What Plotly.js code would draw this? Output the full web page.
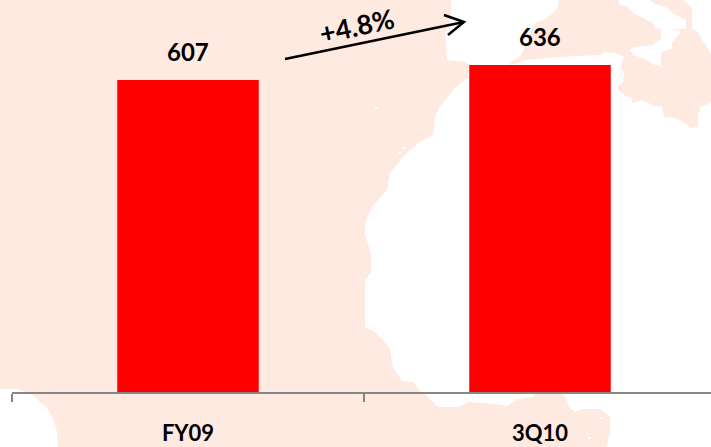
<!DOCTYPE html>
<html>
<head>
<meta charset="utf-8">
<script src="https://cdn.plot.ly/plotly-3.0.1.min.js"></script>
<style>html,body{margin:0;padding:0;background:#fff}</style>
</head>
<body>
<div id="chart" style="width:711px;height:447px"></div>
<script>
// Net figures per period
const categories = ['FY09', '3Q10'];
const values = [607, 636];
const growthLabel = '+4.8%';

const barColor = '#FF0000';
const axisColor = '#868686';
const mapColor = '#FEEAE1';
const textColor = '#000000';
const fontFamily = 'Lato, "Open Sans", sans-serif';

// Plot frame in page pixels
const W = 711, H = 447, L = 12, B = 55;
const plotW = W - L, plotH = H - B;
const pxPerUnit = 0.5141;

// Faint world-map backdrop, outlines in page pixels
const westLand = [[0,0],[451,0],[451,20],[445,33],[447,60],[465,62],[469,65],[468,77],[453,90],[440,107],[435,117],[433,135],[420,142],[407,153],[390,173],[387,190],[372,207],[365,223],[365,234],[371,254],[371,272],[365,281],[365,327],[375,332],[382,339],[390,349],[393,367],[402,381],[413,382],[420,391],[425,394],[438,407],[458,407],[468,402],[495,404],[507,406],[518,399],[533,397],[537,393],[560,392],[567,399],[568,406],[575,412],[583,409],[600,409],[610,417],[610,431],[607,447],[58,447],[57,432],[53,418],[47,408],[40,402],[33,395],[27,393],[18,389],[0,389]];
const eastLand = [[559,0],[618,0],[620,5],[628,7],[633,13],[643,18],[653,23],[655,28],[661,29],[661,39],[652,45],[635,47],[630,50],[633,55],[643,58],[655,65],[661,66],[661,52],[672,49],[672,43],[681,32],[672,29],[686,29],[686,20],[672,13],[668,8],[655,4],[650,0],[683,0],[692,8],[692,28],[698,32],[702,40],[707,47],[711,55],[711,103],[700,107],[700,112],[698,112],[698,127],[690,128],[685,123],[675,118],[664,117],[662,107],[655,106],[642,100],[632,103],[632,97],[627,97],[618,90],[618,86],[623,83],[624,74],[621,67],[624,57],[615,53],[605,52],[600,55],[558,57],[527,60],[510,65],[510,63],[518,58],[523,52],[532,28],[535,23],[543,20],[552,14],[558,8]];
const mapSpecks = [[375,107],[402,147],[398,152],[588,437],[600,417]];

// Growth arrow, page pixels
const arrowShaft = [[285,59],[464,22]];
const arrowHead = [[444,15],[464,22],[448,35]];

const toX = px => (px - L) / plotW;
const toY = py => (plotH - py) / plotH;
const polyline = pts => pts.map((p, i) => (i ? 'L' : 'M') + toX(p[0]).toFixed(4) + ',' + toY(p[1]).toFixed(4)).join(' ');

const landShape = pts => ({
  type: 'path', xref: 'paper', yref: 'paper', layer: 'below',
  path: polyline(pts) + ' Z', fillcolor: mapColor, line: {width: 0}
});
const speckShape = p => ({
  type: 'rect', xref: 'paper', yref: 'paper', layer: 'below',
  x0: toX(p[0]), x1: toX(p[0] + 3), y0: toY(p[1]), y1: toY(p[1] + 2),
  fillcolor: '#FFFFFF', line: {width: 0}
});
const arrowShape = pts => ({
  type: 'path', xref: 'paper', yref: 'paper', layer: 'above',
  path: polyline(pts), line: {color: '#000000', width: 2.5}
});

const shapes = [
  landShape(westLand), landShape(eastLand),
  ...mapSpecks.map(speckShape),
  arrowShape(arrowShaft), arrowShape(arrowHead)
];

const valueLabels = categories.map((c, i) => ({
  x: c, y: values[i], xref: 'x', yref: 'y',
  text: '<b>' + values[i] + '</b>', showarrow: false,
  yanchor: 'bottom', yshift: 12,
  font: {family: fontFamily, size: 24, color: textColor}
}));

const growth = {
  x: toX(357), y: toY(25), xref: 'paper', yref: 'paper',
  xanchor: 'center', yanchor: 'middle',
  text: '<b>' + growthLabel + '</b>', showarrow: false, textangle: -12,
  font: {family: fontFamily, size: 27, color: textColor}
};

Plotly.newPlot('chart', [{
  type: 'bar', x: categories, y: values,
  marker: {color: barColor, line: {width: 0}},
  hoverinfo: 'x+y'
}], {
  width: W, height: H,
  margin: {l: L, r: 0, t: 0, b: B, pad: 0},
  paper_bgcolor: '#FFFFFF', plot_bgcolor: 'rgba(0,0,0,0)',
  bargap: 0.598, showlegend: false,
  xaxis: {
    type: 'category', range: [-0.5, -0.5 + plotW / 352], fixedrange: true,
    showline: true, linecolor: axisColor, linewidth: 2,
    ticks: 'outside', tickson: 'boundaries', ticklen: 8, tickwidth: 2, tickcolor: axisColor,
    ticklabelstandoff: 21,
    tickfont: {family: fontFamily, size: 22, color: textColor},
    tickprefix: '<b>', ticksuffix: '</b>',
    showgrid: false, zeroline: false
  },
  yaxis: {range: [0, plotH / pxPerUnit], visible: false, fixedrange: true},
  shapes: shapes,
  annotations: [...valueLabels, growth]
}, {staticPlot: true, displayModeBar: false});
</script>
</body>
</html>
